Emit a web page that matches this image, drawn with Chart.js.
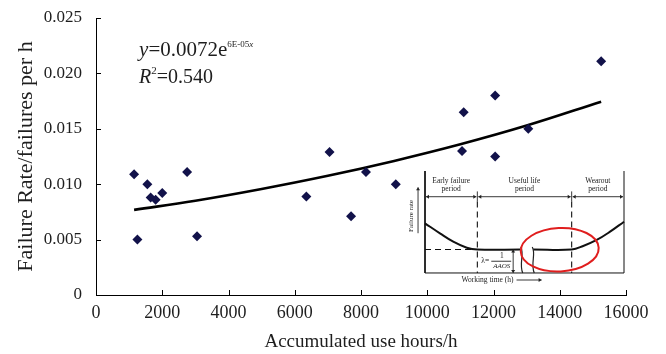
<!DOCTYPE html>
<html>
<head>
<meta charset="utf-8">
<script src="https://cdn.jsdelivr.net/npm/chart.js@4"></script>
<style>
  html, body { margin: 0; padding: 0; background: #fff; }
  #wrap { position: relative; width: 666px; height: 354px; }
  #main { position: absolute; left: 0; top: 0; }
  #inset { position: absolute; left: 403px; top: 165px; }
</style>
</head>
<body>
<div id="wrap">
  <canvas id="main" width="666" height="354"></canvas>
  <canvas id="inset" width="229" height="125"></canvas>
</div>
<script>
// observed failure rate vs accumulated hours
const usageHours = [1150, 1250, 1550, 1650, 1800, 2000, 2750, 3050, 6350, 7050, 7700, 8150, 9050, 11100, 11050, 12050, 12050, 13050, 15250];
const failureRate = [0.0109, 0.0050, 0.0100, 0.0088, 0.0086, 0.0092, 0.0111, 0.0053, 0.0089, 0.0129, 0.0071, 0.0111, 0.0100, 0.0165, 0.0130, 0.0180, 0.0125, 0.0150, 0.0211];

// exponential trend line
const trendHours = [1150, 3000, 5000, 7000, 9000, 11000, 13000, 15250];
const trendRate = [0.00768, 0.00851, 0.00957, 0.01076, 0.01210, 0.01360, 0.01529, 0.01745];

const xTicks = [0, 2000, 4000, 6000, 8000, 10000, 12000, 14000, 16000];
const yTicks = [0, 0.005, 0.010, 0.015, 0.020, 0.025];

// inset bathtub curve (time %, rate %)
const earlyX = [0, 7.5, 14.2, 21, 26.3, 48];
const earlyY = [48.7, 38.9, 30.7, 24.8, 23, 23];
const lateX = [54.4, 73.7, 79.5, 86.3, 93, 100];
const lateY = [23, 23, 26.5, 32.4, 40.5, 50.3];
const periodBounds = [0, 26.3, 73.7, 100];
const periodNames = [["Early failure", "period"], ["Useful life", "period"], ["Wearout", "period"]];

const serif = "'Liberation Serif', 'DejaVu Serif', serif";
const ink = '#1e1e1e';

const toPts = (xs, ys) => xs.map((x, i) => ({ x: x, y: ys[i] }));

const inwardTicks = {
  id: 'inwardTicks',
  afterDraw(chart) {
    const { ctx, scales: { x, y } } = chart;
    ctx.save();
    ctx.strokeStyle = '#000';
    ctx.lineWidth = 1;
    ctx.beginPath();
    xTicks.forEach(v => {
      const px = Math.round(x.getPixelForValue(v)) + 0.5;
      ctx.moveTo(px, y.bottom);
      ctx.lineTo(px, y.bottom - 5);
    });
    yTicks.forEach(v => {
      const py = Math.round(y.getPixelForValue(v)) + 0.5;
      ctx.moveTo(x.left, py);
      ctx.lineTo(x.left + 5, py);
    });
    ctx.stroke();

    // fitted equation
    const ex = x.getPixelForValue(1300);
    const ey1 = y.getPixelForValue(0.0216);
    const ey2 = y.getPixelForValue(0.0191);
    ctx.fillStyle = ink;
    ctx.textBaseline = 'alphabetic';
    ctx.textAlign = 'left';
    ctx.font = 'italic 21px ' + serif;
    ctx.fillText('y', ex, ey1);
    let w = ctx.measureText('y').width;
    ctx.font = '21px ' + serif;
    ctx.fillText('=0.0072e', ex + w, ey1);
    w += ctx.measureText('=0.0072e').width;
    ctx.font = '9px ' + serif;
    ctx.fillText('6E-05', ex + w, ey1 - 9);
    w += ctx.measureText('6E-05').width;
    ctx.font = 'italic 9px ' + serif;
    ctx.fillText('x', ex + w, ey1 - 9);

    ctx.font = 'italic 20px ' + serif;
    ctx.fillText('R', ex, ey2);
    w = ctx.measureText('R').width;
    ctx.font = '11px ' + serif;
    ctx.fillText('2', ex + w, ey2 - 9);
    w += ctx.measureText('2').width;
    ctx.font = '20px ' + serif;
    ctx.fillText('=0.540', ex + w, ey2);
    ctx.restore();
  }
};

new Chart(document.getElementById('main'), {
  type: 'scatter',
  data: {
    datasets: [
      {
        label: 'Failure rate',
        data: toPts(usageHours, failureRate),
        pointStyle: 'rectRot',
        pointRadius: 5,
        backgroundColor: '#12124a',
        borderWidth: 0
      },
      {
        label: 'Trend',
        data: toPts(trendHours, trendRate),
        showLine: true,
        borderColor: '#000',
        borderWidth: 2.6,
        tension: 0.4,
        pointRadius: 0
      }
    ]
  },
  options: {
    responsive: false,
    animation: false,
    layout: { padding: { left: 0, right: 40, top: 18, bottom: 0 } },
    plugins: { legend: { display: false }, tooltip: { enabled: false } },
    scales: {
      x: {
        type: 'linear',
        min: 0, max: 16000,
        afterBuildTicks: s => { s.ticks = xTicks.map(v => ({ value: v })); },
        afterFit: s => { s.height = 59; s.paddingLeft = 0; s.paddingRight = 0; },
        grid: { display: false, drawTicks: false },
        border: { display: true, color: '#000', width: 1 },
        ticks: { color: ink, padding: 7, maxRotation: 0, font: { family: serif, size: 18 }, callback: v => String(v) },
        title: { display: true, text: 'Accumulated use hours/h', color: ink, font: { family: serif, size: 19 }, padding: { top: 0, bottom: 0.5 } }
      },
      y: {
        type: 'linear',
        min: 0, max: 0.025,
        afterBuildTicks: s => { s.ticks = yTicks.map(v => ({ value: v })); },
        afterFit: s => { s.width = 96; s.paddingTop = 0; s.paddingBottom = 0; },
        grid: { display: false, drawTicks: false },
        border: { display: true, color: '#000', width: 1 },
        ticks: { color: ink, padding: 14, font: { family: serif, size: 17 }, callback: v => v === 0 ? '0' : v.toFixed(3) },
        title: { display: true, text: 'Failure Rate/failures per h', color: ink, font: { family: serif, size: 22 }, padding: { top: 13.5, bottom: 0 } }
      }
    }
  },
  plugins: [inwardTicks]
});

// ---- inset: bathtub curve diagram ----
function arrowHead(ctx, x, y, dir) {
  const s = 3;
  ctx.beginPath();
  if (dir === 'l') { ctx.moveTo(x, y); ctx.lineTo(x + s, y - 2); ctx.lineTo(x + s, y + 2); }
  if (dir === 'r') { ctx.moveTo(x, y); ctx.lineTo(x - s, y - 2); ctx.lineTo(x - s, y + 2); }
  if (dir === 'u') { ctx.moveTo(x, y); ctx.lineTo(x - 2, y + s); ctx.lineTo(x + 2, y + s); }
  if (dir === 'd') { ctx.moveTo(x, y); ctx.lineTo(x - 2, y - s); ctx.lineTo(x + 2, y - s); }
  ctx.closePath();
  ctx.fill();
}

const insetDecor = {
  id: 'insetDecor',
  afterDatasetsDraw(chart) {
    const { ctx, scales: { x, y } } = chart;
    const X = v => x.getPixelForValue(v);
    const Y = v => y.getPixelForValue(v);
    ctx.save();
    ctx.strokeStyle = '#222';
    ctx.fillStyle = '#222';
    ctx.lineWidth = 0.9;

    // period arrows
    const ay = Y(74.8);
    for (let i = 0; i < 3; i++) {
      const a = X(periodBounds[i]) + 1, b = X(periodBounds[i + 1]) - 1;
      ctx.beginPath(); ctx.moveTo(a, ay); ctx.lineTo(b, ay); ctx.stroke();
      arrowHead(ctx, a, ay, 'l');
      arrowHead(ctx, b, ay, 'r');
    }
    [26.3, 73.7].forEach(v => {
      ctx.beginPath(); ctx.moveTo(X(v), Y(80)); ctx.lineTo(X(v), Y(70)); ctx.stroke();
    });

    // period labels
    ctx.font = '7.5px ' + serif;
    ctx.textAlign = 'center';
    ctx.textBaseline = 'middle';
    periodNames.forEach((n, i) => {
      const cx = X((periodBounds[i] + periodBounds[i + 1]) / 2);
      ctx.fillText(n[0], cx, Y(90.5));
      ctx.fillText(n[1], cx, Y(82.4));
    });

    // failure rate axis label + arrow
    ctx.save();
    ctx.translate(X(-7.2), Y(56));
    ctx.rotate(-Math.PI / 2);
    ctx.font = '7px ' + serif;
    ctx.fillText('Failure rate', 0, 0);
    ctx.restore();
    ctx.beginPath(); ctx.moveTo(X(-3.5), Y(39)); ctx.lineTo(X(-3.5), Y(84)); ctx.stroke();
    arrowHead(ctx, X(-3.5), Y(84), 'u');

    // working time label + arrow
    ctx.font = '7.5px ' + serif;
    ctx.fillText('Working time (h)', X(31.4), Y(-6.9));
    ctx.beginPath(); ctx.moveTo(X(46), Y(-6.9)); ctx.lineTo(X(58.6), Y(-6.9)); ctx.stroke();
    arrowHead(ctx, X(58.6), Y(-6.9), 'r');

    // lambda marker
    ctx.beginPath(); ctx.moveTo(X(44.3), Y(23)); ctx.lineTo(X(44.3), Y(0)); ctx.stroke();
    arrowHead(ctx, X(44.3), Y(23), 'u');
    arrowHead(ctx, X(44.3), Y(0), 'd');
    ctx.font = '7.5px ' + serif;
    ctx.textAlign = 'left';
    ctx.fillText('\u03bb=', X(28.3), Y(11.5));
    ctx.textAlign = 'center';
    ctx.fillText('1', X(38.6), Y(17));
    ctx.font = 'italic 7px ' + serif;
    ctx.fillText('AAOS', X(38.6), Y(6.5));
    ctx.beginPath(); ctx.moveTo(X(33.3), Y(11.5)); ctx.lineTo(X(43.3), Y(11.5)); ctx.stroke();

    // break marks on the curve
    ctx.lineWidth = 1.2;
    [48.6, 54.4].forEach(v => {
      const cx = X(v);
      ctx.beginPath();
      ctx.moveTo(cx - 1, Y(25.5));
      ctx.bezierCurveTo(cx + 3, Y(19), cx - 3, Y(9), cx + 1, Y(0));
      ctx.stroke();
    });

    // red ellipse
    ctx.strokeStyle = '#e01e1e';
    ctx.lineWidth = 2;
    ctx.beginPath();
    ctx.ellipse(X(67.7), Y(22.8), X(67.7 + 19.6) - X(67.7), Y(0) - Y(21.3), -0.05, 0, Math.PI * 2);
    ctx.stroke();
    ctx.restore();
  }
};

const solid = (pts, w) => ({ data: pts, showLine: true, borderColor: '#111', borderWidth: w, pointRadius: 0, tension: 0 });

new Chart(document.getElementById('inset'), {
  type: 'scatter',
  data: {
    datasets: [
      // frame
      solid([{ x: 0, y: 100 }, { x: 0, y: 0 }, { x: 100, y: 0 }, { x: 100, y: 100 }], 1),
      // bathtub curve
      Object.assign(solid(toPts(earlyX, earlyY), 2), { tension: 0.4 }),
      Object.assign(solid(toPts(lateX, lateY), 2), { tension: 0.4 }),
      // dashed guides
      Object.assign(solid([{ x: 0, y: 23 }, { x: 26.3, y: 23 }], 1.1), { borderDash: [6, 4] }),
      Object.assign(solid([{ x: 26.3, y: 70 }, { x: 26.3, y: 0 }], 1.1), { borderDash: [6, 4] }),
      Object.assign(solid([{ x: 73.7, y: 70 }, { x: 73.7, y: 0 }], 1.1), { borderDash: [6, 4] })
    ]
  },
  options: {
    responsive: false,
    animation: false,
    layout: { padding: 0 },
    plugins: { legend: { display: false }, tooltip: { enabled: false } },
    scales: {
      x: { type: 'linear', display: false, min: -11.06, max: 104.02 },
      y: { type: 'linear', display: false, min: -16.7, max: 105.9 }
    }
  },
  plugins: [insetDecor]
});
</script>
</body>
</html>
